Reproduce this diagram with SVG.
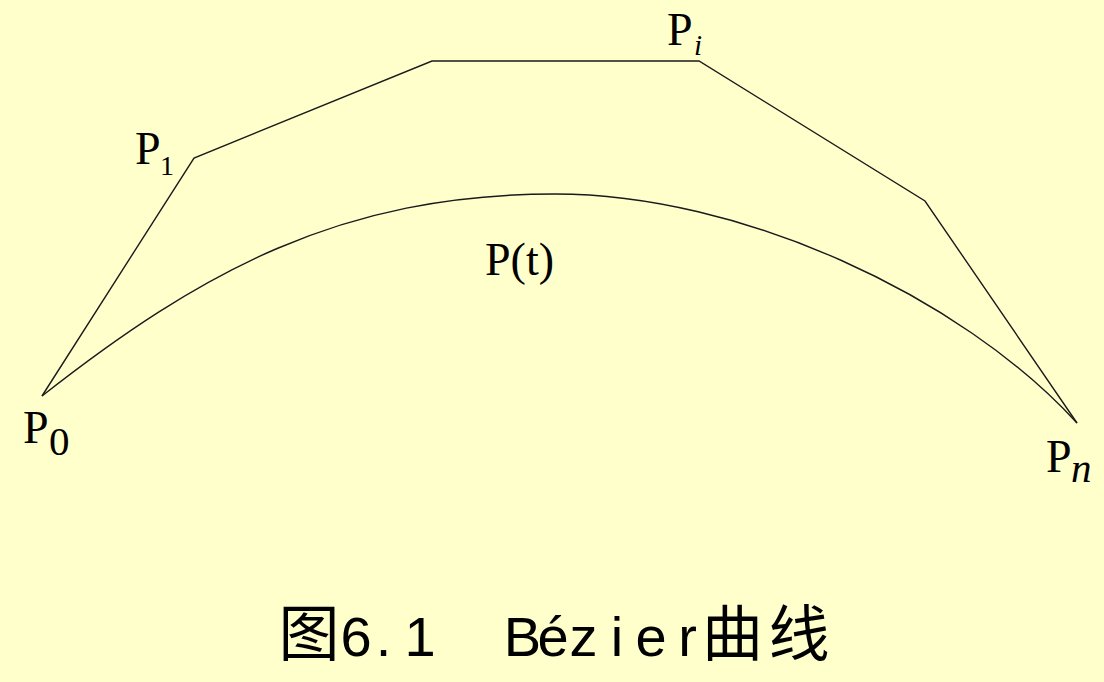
<svg xmlns="http://www.w3.org/2000/svg" width="1104" height="682" viewBox="0 0 1104 682">
  <style>
    .line { fill: none; stroke: #1a1a1a; stroke-width: 1.4; stroke-linejoin: miter; }
    .lbl { font-family: 'Liberation Serif', 'Times New Roman', 'DejaVu Serif', serif; fill: #000; }
    .it { font-style: italic; }
    .cap { font-family: 'Liberation Sans', 'Noto Sans CJK SC', sans-serif; font-size: 56px; fill: #000; }
    .cjk { font-family: 'Noto Sans CJK SC', sans-serif; font-size: 61px; }
  </style>
  <rect x="0" y="0" width="1104" height="682" fill="#FFFFCC"/>

  <g id="connectors">
    <polyline id="control-polygon" class="line" points="42,396 194,158 432,61 699,61 925,201 1077,423"/>
    <path id="curve" class="line" d="M42,396 C200,272 340,194 555,194 C740,194 960,295 1077,423"/>
  </g>

  <g id="P0">
    <text class="lbl" font-family="Liberation Serif, serif" x="23" y="443" font-size="46">P</text>
    <text class="lbl" font-family="Liberation Serif, serif" x="49" y="455" font-size="41">0</text>
  </g>
  <g id="P1">
    <text class="lbl" font-family="Liberation Serif, serif" x="135" y="164" font-size="46">P</text>
    <text class="lbl" font-family="Liberation Serif, serif" x="160" y="175" font-size="28">1</text>
  </g>
  <g id="Pi">
    <text class="lbl" font-family="Liberation Serif, serif" x="667" y="45" font-size="46">P</text>
    <text class="lbl it" font-family="Liberation Serif, serif" x="694" y="55" font-size="29">i</text>
  </g>
  <g id="Pn">
    <text class="lbl" font-family="Liberation Serif, serif" x="1046" y="472" font-size="46">P</text>
    <text class="lbl it" font-family="Liberation Serif, serif" x="1071" y="482" font-size="41">n</text>
  </g>
  <g id="Pt">
    <text class="lbl" font-family="Liberation Serif, serif" x="485" y="275" font-size="46">P(t)</text>
  </g>

  <g id="caption">
    <text class="cap" text-anchor="middle" xml:space="preserve" y="656" x="309 356 383.5 420 455 487 522.5 553 583.5 617 651 687.5 732.5 799"><tspan class="cjk">图</tspan>6.1  Bézier<tspan class="cjk">曲线</tspan></text>
  </g>
</svg>
